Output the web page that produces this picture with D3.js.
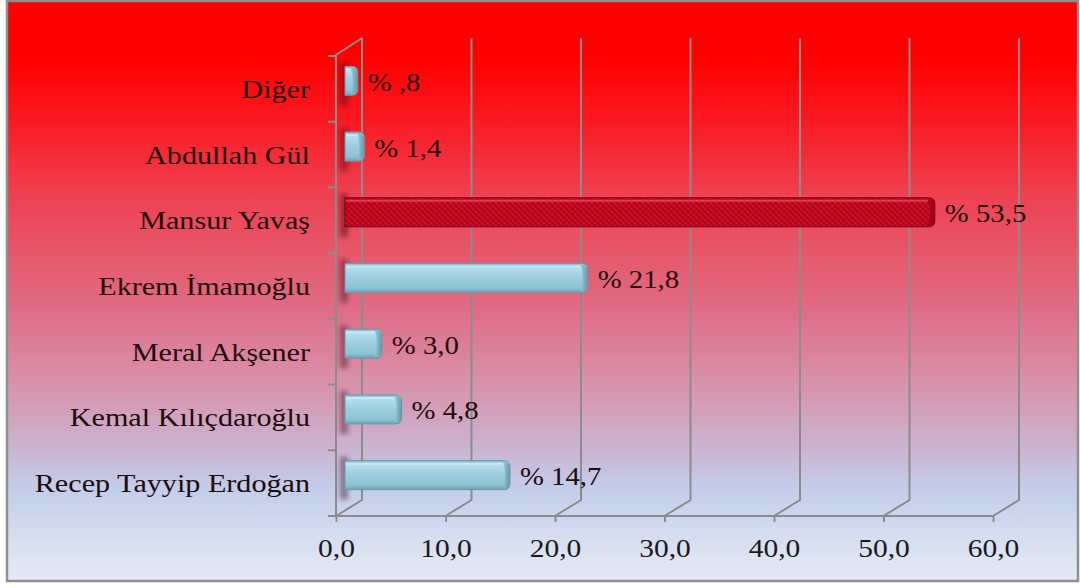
<!DOCTYPE html>
<html><head><meta charset="utf-8">
<script src="https://cdn.jsdelivr.net/npm/d3@7"></script>
<style>html,body{margin:0;padding:0;background:#fff;}svg{display:block;}</style>
</head><body>
<svg id="chart" width="1080" height="588"></svg>
<script>
const categories = ["Diğer","Abdullah Gül","Mansur Yavaş","Ekrem İmamoğlu","Meral Akşener","Kemal Kılıçdaroğlu","Recep Tayyip Erdoğan"];
const values = [0.8, 1.4, 53.5, 21.8, 3.0, 4.8, 14.7];
const valueLabels = ["% ,8","% 1,4","% 53,5","% 21,8","% 3,0","% 4,8","% 14,7"];
const highlight = ["Mansur Yavaş"];
const xTicks = [0,10,20,30,40,50,60];
const xTickLabels = ["0,0","10,0","20,0","30,0","40,0","50,0","60,0"];

const svg = d3.select("#chart");
const defs = svg.append("defs");
const serif = "Liberation Serif";

const bg = defs.append("linearGradient").attr("id","bg").attr("x1",0).attr("y1",0).attr("x2",0).attr("y2",1);
[[0,"#ff0000"],[0.1,"#ff0000"],[0.2,"#fa1820"],[0.34,"#ee4252"],[0.52,"#e06a82"],[0.66,"#d892ac"],[0.76,"#ccb0cc"],[0.84,"#c2cdea"],[0.97,"#dfe6f3"],[1,"#e4e9f4"]]
  .forEach(([o,c])=>bg.append("stop").attr("offset",o).attr("stop-color",c));

const blue = defs.append("linearGradient").attr("id","blueBar").attr("x1",0).attr("y1",0).attr("x2",0).attr("y2",1);
[[0,"#7fb6c8"],[0.12,"#b6e0ee"],[0.45,"#9ecfe0"],[0.85,"#8cc2d4"],[1,"#6d9fb2"]].forEach(([o,c])=>blue.append("stop").attr("offset",o).attr("stop-color",c));
const blueCap = defs.append("linearGradient").attr("id","blueCap").attr("x1",0).attr("y1",0).attr("x2",1).attr("y2",0);
[[0,"#94c6d6"],[1,"#5f8fa2"]].forEach(([o,c])=>blueCap.append("stop").attr("offset",o).attr("stop-color",c));

const red = defs.append("linearGradient").attr("id","redBar").attr("x1",0).attr("y1",0).attr("x2",0).attr("y2",1);
[[0,"#a8001a"],[0.15,"#e0142c"],[0.5,"#cc0a22"],[1,"#9a0014"]].forEach(([o,c])=>red.append("stop").attr("offset",o).attr("stop-color",c));
const hatch = defs.append("pattern").attr("id","hatch").attr("patternUnits","userSpaceOnUse").attr("width",4).attr("height",4).attr("patternTransform","rotate(45)");
hatch.append("rect").attr("width",4).attr("height",4).attr("fill","url(#redBar)");
hatch.append("line").attr("x1",0).attr("y1",0).attr("x2",0).attr("y2",4).attr("stroke","#8a0012").attr("stroke-width",1.4).attr("opacity",0.7);

const blur = defs.append("filter").attr("id","blur").attr("x","-50%").attr("y","-50%").attr("width","200%").attr("height","200%");
blur.append("feGaussianBlur").attr("stdDeviation",2.5);

svg.append("rect").attr("x",7).attr("y",1).attr("width",1071).attr("height",580)
  .attr("fill","url(#bg)").attr("stroke","#8f8f8f").attr("stroke-width",2.5);

const x = d3.scaleLinear().domain([0,60]).range([336,993]);
const y = d3.scaleBand().domain(categories).range([56,516]).padding(0);
const dx = 26, dy = -16;
const floorY = 516, topBack = 38;
const grid = "#8c8c8c";

const g = svg.append("g").attr("fill","none").attr("stroke",grid).attr("stroke-width",2);
xTicks.forEach(t=>{
  g.append("path").attr("d",`M${x(t)},${floorY}L${x(t)+dx},${floorY+dy}L${x(t)+dx},${topBack}`);
});
g.append("path").attr("d",`M${x(0)},${floorY}L${x(0)},${topBack-dy+1}L${x(0)+dx},${topBack}`);
g.append("line").attr("x1",x(0)).attr("x2",x(60)).attr("y1",floorY).attr("y2",floorY);

const xAxis = d3.axisBottom(x).tickValues(xTicks).tickSize(6).tickFormat((d,i)=>xTickLabels[i]);
const xa = svg.append("g").attr("transform",`translate(0,${floorY})`).call(xAxis);
xa.select(".domain").remove();
xa.selectAll(".tick line").attr("stroke",grid).attr("stroke-width",2);
xa.selectAll(".tick text").attr("font-family",serif).attr("font-size",25).attr("fill","#1a1a1a")
  .attr("dy",0).attr("y",0).attr("transform","translate(0,41) scale(1.18,1)");

const bounds = categories.map(c=>y(c)).concat([y.range()[1]]);
svg.append("g").selectAll("line").data(bounds).join("line")
  .attr("x1",x(0)-8).attr("x2",x(0)).attr("y1",d=>d).attr("y2",d=>d)
  .attr("stroke",grid).attr("stroke-width",2);

svg.append("g").selectAll("text").data(categories).join("text")
  .attr("transform",d=>`translate(310,${y(d)+y.bandwidth()/2+9}) scale(1.16,1)`)
  .attr("text-anchor","end").attr("font-family",serif).attr("font-size",26)
  .attr("fill","#1e0c0c").text(d=>d);

const barH = 29;
const data = categories.map((c,i)=>({c, v:values[i], label:valueLabels[i]}));
const bars = svg.append("g");
data.forEach(d=>{
  const cy = y(d.c)+y.bandwidth()/2 - 8;
  const x0 = x(0)+9, x1 = x(d.v)+dx/2;
  const hi = highlight.includes(d.c);
  bars.append("rect").attr("x",x(0)+4).attr("y",cy-barH/2-4).attr("width",8).attr("height",barH+14)
    .attr("fill", hi ? "#3a0008" : "#40101c").attr("opacity",0.45).attr("filter","url(#blur)");
  const w = Math.max(x1-x0, 6);
  const r = 6;
  bars.append("path")
    .attr("d",`M${x0},${cy-barH/2}H${x0+w-r}Q${x0+w},${cy-barH/2} ${x0+w},${cy-barH/2+r}V${cy+barH/2-r}Q${x0+w},${cy+barH/2} ${x0+w-r},${cy+barH/2}H${x0}Z`)
    .attr("fill", hi ? "url(#hatch)" : "url(#blueBar)")
    .attr("stroke", hi ? "#7a0010" : "#6c9aac").attr("stroke-width",1);
  bars.append("path")
    .attr("d",`M${x0+w-7},${cy-barH/2+1}Q${x0+w},${cy-barH/2+1} ${x0+w},${cy-barH/2+7}V${cy+barH/2-7}Q${x0+w},${cy+barH/2-1} ${x0+w-7},${cy+barH/2-1}Q${x0+w-3},${cy} ${x0+w-7},${cy-barH/2+1}Z`)
    .attr("fill", hi ? "#a00018" : "url(#blueCap)").attr("opacity",0.85);
  bars.append("line").attr("x1",x0+1).attr("x2",x0+w-7).attr("y1",cy-barH/2+3).attr("y2",cy-barH/2+3)
    .attr("stroke", hi ? "#ff5a6a" : "#d8f2fa").attr("stroke-width",2).attr("opacity",0.6);
  bars.append("text").attr("transform",`translate(${x1+10},${cy+10}) scale(1.15,1)`)
    .attr("font-family",serif).attr("font-size",25).attr("fill","#1e0c0c").text(d.label);
});
</script>
</body></html>
